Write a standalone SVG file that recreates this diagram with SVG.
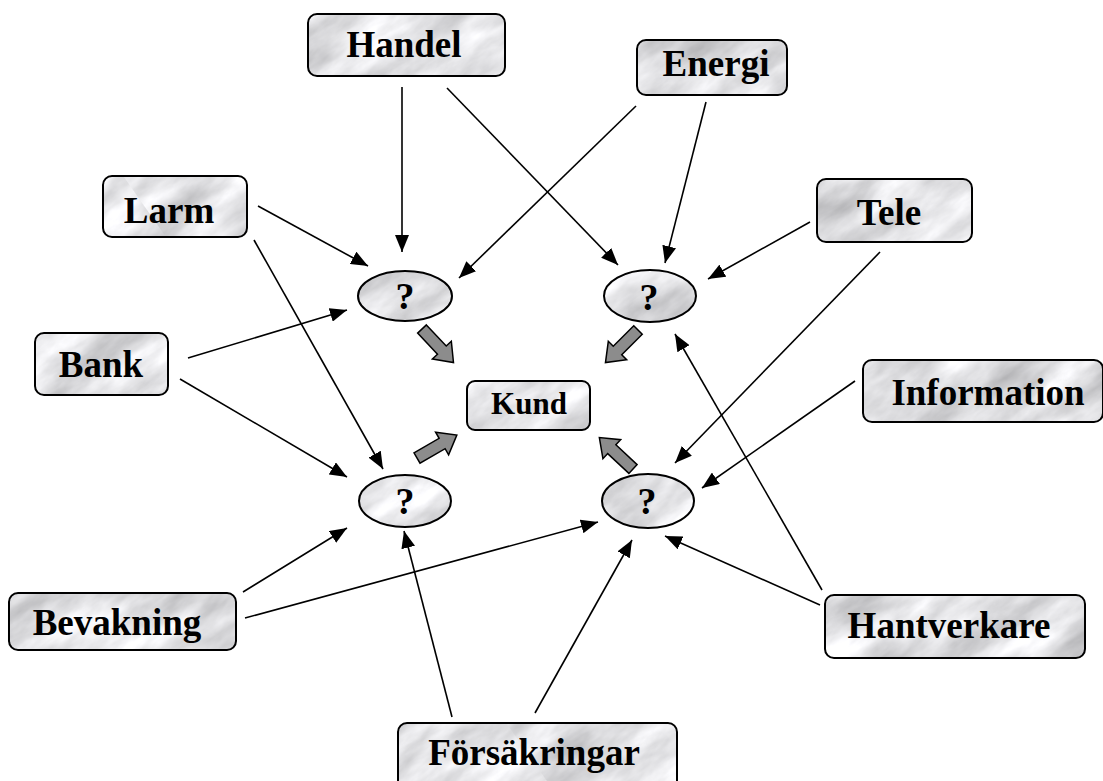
<svg xmlns="http://www.w3.org/2000/svg" width="1103" height="781" viewBox="0 0 1103 781">
<defs>
  <style>
    .fill { fill: url(#mp); }
    .edge { fill: none; stroke: #000; stroke-width: 2; }
    .lbl { font-family: "Liberation Serif", "Times New Roman", serif; font-weight: bold; font-size: 37px; text-anchor: middle; fill: #000; }
    .q { font-size: 38px; }
    .kund { font-size: 31px; }
    .conn line { stroke: #000; stroke-width: 1.6; marker-end: url(#ah); }
    .block { fill: #8c8c8c; stroke: #000; stroke-width: 1.5; stroke-linejoin: miter; }
  </style>
  <filter id="marble" x="0" y="0" width="1" height="1" color-interpolation-filters="sRGB">
    <feTurbulence type="fractalNoise" baseFrequency="0.012 0.03" numOctaves="5" seed="11" result="n"/>
    <feColorMatrix in="n" type="matrix" values="0.45 0 0 0 0.66  0.45 0 0 0 0.66  0.45 0 0 0 0.67  0 0 0 0 1"/>
  </filter>
  <pattern id="mp" patternUnits="userSpaceOnUse" x="0" y="0" width="1400" height="1400" patternTransform="rotate(-35)">
    <rect x="0" y="0" width="1400" height="1400" filter="url(#marble)"/>
  </pattern>
  <marker id="ah" markerUnits="userSpaceOnUse" markerWidth="18" markerHeight="14" refX="17" refY="7" orient="auto">
    <path d="M0,0 L17,7 L0,14 z" fill="#000"/>
  </marker>
  <polygon id="blk" points="0,-6 29,-6 29,-13 46,0 29,13 29,6 0,6"/>
</defs>

<g id="connectors" class="conn">
  <line x1="402" y1="87" x2="402" y2="252"/>
  <line x1="447" y1="88" x2="618" y2="265"/>
  <line x1="636" y1="106" x2="459" y2="278"/>
  <line x1="706" y1="102" x2="665" y2="263"/>
  <line x1="258" y1="206" x2="368" y2="266"/>
  <line x1="254" y1="240" x2="383" y2="469"/>
  <line x1="810" y1="222" x2="708" y2="279"/>
  <line x1="880" y1="252" x2="675" y2="463"/>
  <line x1="188" y1="358" x2="347" y2="310"/>
  <line x1="180" y1="379" x2="347" y2="477"/>
  <line x1="855" y1="381" x2="702" y2="488"/>
  <line x1="822" y1="590" x2="675" y2="334"/>
  <line x1="820" y1="605" x2="665" y2="536"/>
  <line x1="243" y1="592" x2="347" y2="528"/>
  <line x1="245" y1="618" x2="598" y2="522"/>
  <line x1="452" y1="717" x2="404" y2="531"/>
  <line x1="535" y1="713" x2="632" y2="540"/>
  <use href="#blk" class="block" transform="translate(422,329) rotate(46.8)"/>
  <use href="#blk" class="block" transform="translate(638,330) rotate(135)"/>
  <use href="#blk" class="block" transform="translate(417,458) rotate(-30)"/>
  <use href="#blk" class="block" transform="translate(633,469) rotate(-137)"/>
</g>

<g id="handel"><rect class="fill" x="308" y="14" width="197" height="62" rx="9"/><rect class="edge" x="308" y="14" width="197" height="62" rx="9"/><text class="lbl" x="404" y="57">Handel</text></g>
<g id="energi"><rect class="fill" x="637" y="40" width="150" height="55" rx="9"/><rect class="edge" x="637" y="40" width="150" height="55" rx="9"/><text class="lbl" x="716" y="76">Energi</text></g>
<g id="larm"><rect class="fill" x="103" y="176" width="144" height="61" rx="9"/><rect class="edge" x="103" y="176" width="144" height="61" rx="9"/><text class="lbl" x="169" y="223">Larm</text></g>
<g id="tele"><rect class="fill" x="817" y="179" width="155" height="63" rx="9"/><rect class="edge" x="817" y="179" width="155" height="63" rx="9"/><text class="lbl" x="889" y="225">Tele</text></g>
<g id="bank"><rect class="fill" x="35" y="333" width="133" height="62" rx="9"/><rect class="edge" x="35" y="333" width="133" height="62" rx="9"/><text class="lbl" x="101" y="377">Bank</text></g>
<g id="information"><rect class="fill" x="863" y="360" width="240" height="62" rx="9"/><rect class="edge" x="863" y="360" width="240" height="62" rx="9"/><text class="lbl" x="988" y="405">Information</text></g>
<g id="kund"><rect class="fill" x="467" y="381" width="123" height="49" rx="8"/><rect class="edge" x="467" y="381" width="123" height="49" rx="8"/><text class="lbl kund" x="529" y="414">Kund</text></g>
<g id="bevakning"><rect class="fill" x="9" y="593" width="227" height="57" rx="9"/><rect class="edge" x="9" y="593" width="227" height="57" rx="9"/><text class="lbl" x="117" y="635">Bevakning</text></g>
<g id="hantverkare"><rect class="fill" x="825" y="595" width="260" height="63" rx="9"/><rect class="edge" x="825" y="595" width="260" height="63" rx="9"/><text class="lbl" x="949" y="638">Hantverkare</text></g>
<g id="forsakringar"><rect class="fill" x="398" y="723" width="279" height="70" rx="9"/><rect class="edge" x="398" y="723" width="279" height="70" rx="9"/><text class="lbl" x="534" y="765">Försäkringar</text></g>

<g id="q-tl"><ellipse class="fill" cx="405" cy="296" rx="47" ry="25"/><ellipse class="edge" cx="405" cy="296" rx="47" ry="25"/><text class="lbl q" x="405" y="309">?</text></g>
<g id="q-tr"><ellipse class="fill" cx="650" cy="296" rx="46" ry="26"/><ellipse class="edge" cx="650" cy="296" rx="46" ry="26"/><text class="lbl q" x="649" y="310">?</text></g>
<g id="q-bl"><ellipse class="fill" cx="405" cy="501" rx="46" ry="26"/><ellipse class="edge" cx="405" cy="501" rx="46" ry="26"/><text class="lbl q" x="405" y="514">?</text></g>
<g id="q-br"><ellipse class="fill" cx="648" cy="501" rx="46" ry="27"/><ellipse class="edge" cx="648" cy="501" rx="46" ry="27"/><text class="lbl q" x="647" y="514">?</text></g>
</svg>
